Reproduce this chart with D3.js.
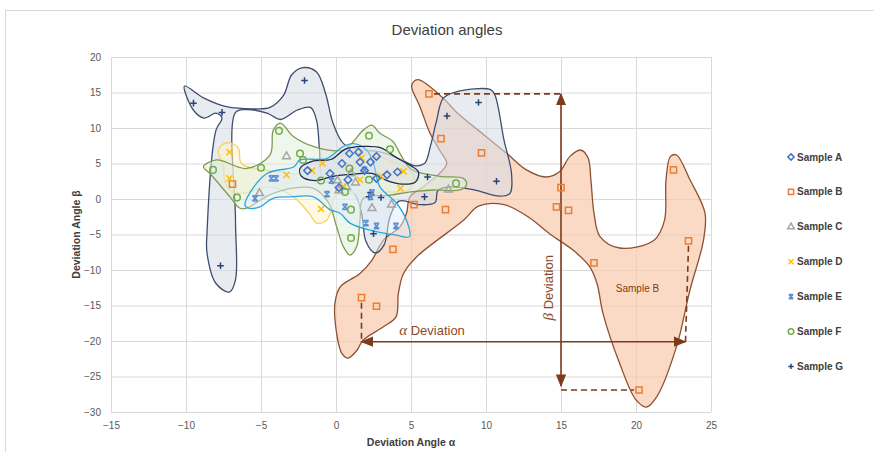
<!DOCTYPE html>
<meta charset="utf-8">
<style>
body { margin: 0; background: #fff; }
svg { font-family: "Liberation Sans", Arial, sans-serif; }
.tick text { fill: #595959; font-size: 10px; }
.grid line { stroke: #d9d9d9; }
.grid path, .axis path { display: none; }
</style>
<body>
<script src="https://cdn.jsdelivr.net/npm/d3@7"></script>
<script>
// axis ticks
var xTicks = [-15, -10, -5, 0, 5, 10, 15, 20, 25];
var yTicks = [-30, -25, -20, -15, -10, -5, 0, 5, 10, 15, 20];

var seriesNames = ["Sample A", "Sample B", "Sample C", "Sample D", "Sample E", "Sample F", "Sample G"];

// points [alpha, beta]
var sampleA = [[0.9,6.4],[1.5,6.6],[2.7,6.0],[2.3,5.2],[0.4,5.0],[1.6,5.2],[4.1,3.8],[-1.9,4.0],[0.8,2.7],[2.7,2.9],[-0.4,3.6],[1.9,4.0],[3.4,3.4],[0.2,1.6]];
var sampleB = [[6.2,14.8],[7.0,8.5],[9.7,6.5],[5.2,-0.8],[7.3,-1.5],[15.0,1.6],[14.7,-1.1],[15.5,-1.6],[22.5,4.1],[23.5,-5.9],[17.2,-9.0],[20.2,-26.9],[3.8,-7.1],[1.7,-13.9],[2.7,-15.1],[-6.9,2.1]];
var sampleC = [[-3.3,6.0],[-5.1,0.8],[0.1,2.6],[0.7,1.7],[0.2,1.2],[1.3,2.3],[2.4,-1.3],[3.7,-0.8],[7.5,1.3],[1.0,3.6]];
var sampleD = [[-7.1,6.6],[-7.1,2.9],[-3.3,3.4],[-1.0,-1.4],[1.6,2.7],[4.3,1.5],[4.5,3.9],[-0.9,5.0],[1.7,5.8],[-1.6,4.0],[0.5,1.8],[3.0,3.2]];
var sampleE = [[-5.4,0.1],[-4.3,2.9],[-4.0,2.9],[-0.6,0.7],[0.6,-1.1],[2.0,-3.4],[2.7,-3.8],[4.0,-3.8],[2.3,0.3],[2.4,0.9],[-0.3,2.6],[1.9,4.1]];
var sampleF = [[-3.8,9.6],[-8.2,4.1],[-5.0,4.4],[-2.4,6.4],[-2.2,5.5],[-6.6,0.2],[-1.0,2.6],[1.0,-1.5],[2.2,8.9],[3.6,7.0],[8.0,2.2],[1.0,-5.5],[0.9,4.3],[2.2,2.7],[0.6,1.0]];
var sampleG = [[-9.5,13.5],[-7.6,12.2],[-2.1,16.7],[-7.7,-9.4],[9.5,13.6],[7.4,11.7],[6.1,3.1],[10.7,2.5],[5.9,0.3],[3.0,0.2],[2.2,0.3],[2.5,-4.9],[2.3,0.9]];

// hand drawn regions round each sample (data units)
var outlineG = [[-10.1,15.9],[-8.8,14.2],[-7.3,13.0],[-5.5,12.7],[-4.4,12.9],[-3.5,14.6],[-2.95,17.5],[-2.2,18.5],[-1.3,17.9],[-0.7,14.9],[-0.2,10.7],[0.5,7.8],[1.5,7.0],[3.0,6.6],[4.3,5.6],[5.2,4.7],[5.9,5.0],[6.3,7.5],[6.7,11.0],[7.15,14.2],[8.0,15.1],[10.3,15.4],[10.6,14.6],[11.2,8.3],[11.7,3.6],[11.6,0.8],[10.9,0.4],[9.2,1.3],[7.6,1.7],[6.8,1.2],[6.6,-0.5],[5.6,-0.8],[4.2,-0.3],[3.6,-2.5],[3.2,-6.5],[2.6,-7.6],[2.0,-6.0],[1.7,-2.0],[1.2,0.8],[0.0,1.8],[-0.9,3.0],[-1.1,6.9],[-1.3,11.1],[-1.7,12.9],[-2.6,12.5],[-3.7,11.2],[-4.6,12.1],[-6.0,12.6],[-6.7,12.2],[-6.7,-3.0],[-6.7,-11.4],[-7.1,-13.1],[-8.0,-11.9],[-8.6,-7.6],[-8.6,-4.8],[-8.0,9.7],[-7.6,11.4],[-8.0,12.1],[-8.8,11.4],[-9.5,12.5]];
var outlineB = [[5.16,16.5],[5.5,16.8],[7.15,14.2],[8.0,12.3],[10.0,8.8],[11.4,6.4],[12.7,4.1],[14.0,3.1],[14.9,3.85],[15.6,6.0],[16.3,6.9],[16.8,5.8],[17.0,2.5],[17.2,-2.0],[17.6,-5.3],[18.9,-6.9],[21.2,-5.8],[21.9,-3.0],[22.0,2.7],[22.3,6.0],[22.7,6.2],[23.6,2.7],[24.6,-2.0],[24.5,-5.8],[23.6,-12.8],[22.7,-20.8],[21.4,-27.8],[20.7,-29.3],[20.0,-28.3],[18.9,-23.1],[17.8,-16.1],[17.4,-11.9],[16.9,-9.5],[15.8,-7.2],[14.3,-5.0],[12.8,-2.5],[11.2,-0.8],[9.5,-1.0],[8.5,-3.0],[5.4,-8.1],[4.5,-10.5],[4.16,-13.3],[4.0,-16.6],[3.16,-18.0],[1.8,-19.9],[1.4,-21.3],[0.8,-22.4],[0.38,-21.7],[0.04,-18.9],[-0.07,-14.7],[0.27,-12.4],[1.6,-10.5],[2.4,-8.6],[3.16,-5.8],[4.27,-3.9],[4.7,-2.0],[4.93,0.3],[5.8,1.7],[6.9,3.6],[7.38,5.0],[6.9,6.9],[6.27,9.25],[5.6,13.0],[5.04,15.8]];
var outlineF = [[-8.84,4.55],[-7.96,5.5],[-5.96,4.3],[-4.4,6.2],[-4.18,9.7],[-3.7,10.7],[-2.84,8.8],[-1.5,7.4],[0.49,6.9],[1.82,9.7],[2.38,10.4],[2.93,9.25],[3.8,8.1],[4.27,6.4],[5.0,4.2],[6.93,3.2],[8.5,2.9],[8.7,2.0],[8.27,1.27],[6.5,1.27],[5.0,1.0],[3.5,0.5],[1.82,0.1],[1.6,-3.0],[1.38,-6.7],[0.93,-7.9],[0.49,-6.7],[0.04,-3.9],[-0.5,-0.5],[-1.5,1.5],[-3,1.5],[-4.5,0.5],[-5.96,-1.3],[-6.4,-1.3],[-7.07,0.3],[-8.4,3.6]];
var outlineD = [[-7.85,6.7],[-7.62,7.6],[-7.07,7.9],[-6.5,7.1],[-6.3,5.0],[-3.96,3.85],[-1.96,3.6],[-0.4,5.5],[1.5,6.5],[3,5.8],[4.5,4.6],[5.2,3.3],[4.8,1.2],[3.5,1.0],[1.5,0.8],[0.0,0.5],[-0.3,-1.5],[-0.62,-3.0],[-1.29,-3.4],[-1.8,-2],[-2.84,0.3],[-4.4,1.7],[-6.18,0.8],[-6.84,1.0],[-7.4,2.4],[-7.5,4.55]];
var outlineE = [[-6.07,-0.85],[-5.7,1.0],[-4.6,3.6],[-2.8,4.55],[-2.4,5.5],[-0.62,5.7],[0.49,7.4],[1.16,7.8],[2.04,6.9],[2.5,5],[2.93,1.7],[4.04,-0.6],[4.7,-3.0],[4.9,-5.3],[4.04,-5.1],[2.27,-4.4],[0.93,-3.4],[0.27,-2.0],[-0.4,-1.5],[-1.5,0.3],[-3,0.3],[-4.2,0.1],[-5.07,-1.1],[-5.84,-1.3]];
var outlineA = [[-2.4,4.3],[-1.6,5.3],[-0.3,5.6],[0.6,7.0],[1.8,7.4],[3.0,7.2],[3.9,6.0],[4.8,4.9],[5.5,3.8],[5.3,2.4],[4.4,2.1],[3.4,2.6],[2.4,3.6],[1.2,3.5],[-0.2,3.2],[-1.4,2.6],[-2.3,3.2]];

// deviation annotation for sample B
var alphaSpan = [1.7, 23.5], alphaLevel = -20.1;
var betaSpan = [-26.9, 14.8], betaLevel = 15.0;

var width = 874, height = 452;
var x = d3.scaleLinear().domain([-15, 25]).range([111, 711]);
var y = d3.scaleLinear().domain([-30, 20]).range([412, 57]);

var svg = d3.select("body").append("svg")
    .attr("width", width)
    .attr("height", height);

// chart frame
svg.append("rect")
    .attr("x", 5.5).attr("y", 10.5)
    .attr("width", 900).attr("height", 500)
    .attr("fill", "none").attr("stroke", "#d9d9d9");

// gridlines
svg.append("g")
    .attr("class", "grid")
    .attr("transform", "translate(0," + y(-30) + ")")
    .call(d3.axisBottom(x).tickValues(xTicks).tickSize(-(y(-30) - y(20))).tickFormat(""));
svg.append("g")
    .attr("class", "grid")
    .attr("transform", "translate(" + x(-15) + ",0)")
    .call(d3.axisLeft(y).tickValues(yTicks).tickSize(-(x(25) - x(-15))).tickFormat(""));

// tick labels
svg.append("g")
    .attr("class", "axis")
    .attr("transform", "translate(0," + y(-30) + ")")
    .call(d3.axisBottom(x).tickValues(xTicks).tickSize(0).tickPadding(10));
svg.append("g")
    .attr("class", "axis")
    .attr("transform", "translate(" + x(-15) + ",0)")
    .call(d3.axisLeft(y).tickValues(yTicks).tickSize(0).tickPadding(10));

// sample regions
var blob = d3.line()
    .x(function(d) { return x(d[0]); })
    .y(function(d) { return y(d[1]); })
    .curve(d3.curveCatmullRomClosed.alpha(0.5));

var regions = [
  { pts: outlineB, fill: "#f8cbad", op: 0.7, stroke: "#8d5032" },
  { pts: outlineG, fill: "#d6dce5", op: 0.55, stroke: "#3f4d6e" },
  { pts: outlineD, fill: "#fff2cc", op: 0.55, stroke: "#f5d36b" },
  { pts: outlineF, fill: "#e2efda", op: 0.55, stroke: "#7e9c4f" },
  { pts: outlineE, fill: "#deebf7", op: 0.5, stroke: "#2aa7dc" },
  { pts: outlineA, fill: "#d6dce5", op: 0.4, stroke: "#1f2b4a" }
];
svg.selectAll(".region")
    .data(regions)
  .enter().append("path")
    .attr("class", "region")
    .attr("d", function(d) { return blob(d.pts); })
    .attr("fill", function(d) { return d.fill; })
    .attr("fill-opacity", function(d) { return d.op; })
    .attr("stroke", function(d) { return d.stroke; })
    .attr("stroke-width", 1.3);

// arrows
var brown = "#7e3b1c";
var defs = svg.append("defs");
["arrowEnd", "arrowStart"].forEach(function(id, i) {
  defs.append("marker")
      .attr("id", id)
      .attr("viewBox", "0 -5 10 10")
      .attr("refX", 9).attr("refY", 0)
      .attr("markerWidth", 8).attr("markerHeight", 8)
      .attr("orient", i == 0 ? "auto" : "auto-start-reverse")
    .append("path")
      .attr("d", "M0,-4L10,0L0,4Z")
      .attr("fill", brown);
});

var ann = svg.append("g").attr("stroke", brown).attr("stroke-width", 1.6).attr("fill", "none");
// dashed guides
ann.append("line").attr("stroke-dasharray", "6,4")
    .attr("x1", x(sampleB[13][0])).attr("y1", y(sampleB[13][1]) + 5)
    .attr("x2", x(alphaSpan[0])).attr("y2", y(alphaLevel));
ann.append("line").attr("stroke-dasharray", "6,4")
    .attr("x1", x(sampleB[9][0])).attr("y1", y(sampleB[9][1]) + 5)
    .attr("x2", x(alphaSpan[1]) - 3).attr("y2", y(alphaLevel));
ann.append("line").attr("stroke-dasharray", "6,4")
    .attr("x1", x(sampleB[0][0]) + 5).attr("y1", y(betaSpan[1]))
    .attr("x2", x(betaLevel)).attr("y2", y(betaSpan[1]));
ann.append("line").attr("stroke-dasharray", "6,4")
    .attr("x1", x(betaLevel)).attr("y1", y(betaSpan[0]))
    .attr("x2", x(sampleB[11][0]) - 5).attr("y2", y(betaSpan[0]));
// alpha arrow
ann.append("line")
    .attr("x1", x(alphaSpan[0])).attr("y1", y(alphaLevel))
    .attr("x2", x(alphaSpan[1]) - 3).attr("y2", y(alphaLevel))
    .attr("marker-start", "url(#arrowStart)")
    .attr("marker-end", "url(#arrowEnd)");
// beta arrow
ann.append("line")
    .attr("x1", x(betaLevel)).attr("y1", y(betaSpan[0]) - 4)
    .attr("x2", x(betaLevel)).attr("y2", y(betaSpan[1]))
    .attr("marker-start", "url(#arrowStart)")
    .attr("marker-end", "url(#arrowEnd)");

var aLab = svg.append("text")
    .attr("x", x(6.4)).attr("y", y(alphaLevel) - 7)
    .attr("text-anchor", "middle")
    .attr("fill", "#8b4a2b")
    .style("font-size", "13px");
aLab.append("tspan").style("font-family", "Liberation Serif").style("font-style", "italic").style("font-size", "15px").text("α");
aLab.append("tspan").text(" Deviation");

var bLab = svg.append("text")
    .attr("transform", "translate(" + (x(betaLevel) - 8) + "," + y(-12.5) + ") rotate(-90)")
    .attr("text-anchor", "middle")
    .attr("fill", "#8b4a2b")
    .style("font-size", "13px");
bLab.append("tspan").style("font-family", "Liberation Serif").style("font-style", "italic").style("font-size", "15px").text("β");
bLab.append("tspan").text(" Deviation");

svg.append("text")
    .attr("x", x(20.1)).attr("y", y(-13.1))
    .attr("text-anchor", "middle")
    .attr("fill", "#843c0c")
    .style("font-size", "10px")
    .text("Sample B");

// markers
var diamond = {
  draw: function(ctx, size) {
    var r = Math.sqrt(size) / 2;
    ctx.moveTo(0, -r); ctx.lineTo(r, 0); ctx.lineTo(0, r); ctx.lineTo(-r, 0); ctx.closePath();
  }
};
var starX = {
  draw: function(ctx, size) {
    var r = Math.sqrt(size) / 2;
    ctx.moveTo(-r, -r); ctx.lineTo(r, r);
    ctx.moveTo(r, -r); ctx.lineTo(-r, r);
    ctx.moveTo(-r, -r); ctx.lineTo(r, -r);
    ctx.moveTo(-r, r); ctx.lineTo(r, r);
  }
};
var series = [
  { name: seriesNames[0], pts: sampleA, color: "#4472c4", sym: diamond, size: 56 },
  { name: seriesNames[1], pts: sampleB, color: "#ed7d31", sym: d3.symbolSquare, size: 38 },
  { name: seriesNames[2], pts: sampleC, color: "#a5a5a5", sym: d3.symbolTriangle, size: 26 },
  { name: seriesNames[3], pts: sampleD, color: "#ffc000", sym: d3.symbolTimes, size: 26 },
  { name: seriesNames[4], pts: sampleE, color: "#5b8fd3", sym: starX, size: 28 },
  { name: seriesNames[5], pts: sampleF, color: "#70ad47", sym: d3.symbolCircle, size: 34 },
  { name: seriesNames[6], pts: sampleG, color: "#264478", sym: d3.symbolPlus, size: 16 }
];

var drawOrder = [1, 6, 2, 3, 4, 5, 0];
drawOrder.forEach(function(i) {
  var s = series[i];
  svg.append("g").selectAll("path")
      .data(s.pts)
    .enter().append("path")
      .attr("transform", function(d) { return "translate(" + x(d[0]) + "," + y(d[1]) + ")"; })
      .attr("d", d3.symbol().type(s.sym).size(s.size))
      .attr("fill", "none")
      .attr("stroke", s.color)
      .attr("stroke-width", 1.5);
});

// legend
var legend = svg.append("g").attr("transform", "translate(791,157)");
var item = legend.selectAll("g")
    .data(series)
  .enter().append("g")
    .attr("transform", function(d, i) { return "translate(0," + (i * 34.9) + ")"; });
item.append("path")
    .attr("d", function(d) { return d3.symbol().type(d.sym).size(d.size * 0.7)(); })
    .attr("fill", "none")
    .attr("stroke", function(d) { return d.color; })
    .attr("stroke-width", 1.5);
item.append("text")
    .attr("x", 6).attr("dy", "0.35em")
    .attr("fill", "#404040")
    .style("font-size", "10px")
    .style("font-weight", "bold")
    .text(function(d) { return d.name; });

// titles
svg.append("text")
    .attr("x", 447).attr("y", 35)
    .attr("text-anchor", "middle")
    .attr("fill", "#404040")
    .style("font-size", "15px")
    .text("Deviation angles");
svg.append("text")
    .attr("x", (x(-15) + x(25)) / 2).attr("y", 446)
    .attr("text-anchor", "middle")
    .attr("fill", "#404040")
    .style("font-size", "10.5px")
    .style("font-weight", "bold")
    .text("Deviation Angle α");
svg.append("text")
    .attr("transform", "translate(80," + (y(-30) + y(20)) / 2 + ") rotate(-90)")
    .attr("text-anchor", "middle")
    .attr("fill", "#404040")
    .style("font-size", "10.5px")
    .style("font-weight", "bold")
    .text("Deviation Angle β");
</script>
</body>
